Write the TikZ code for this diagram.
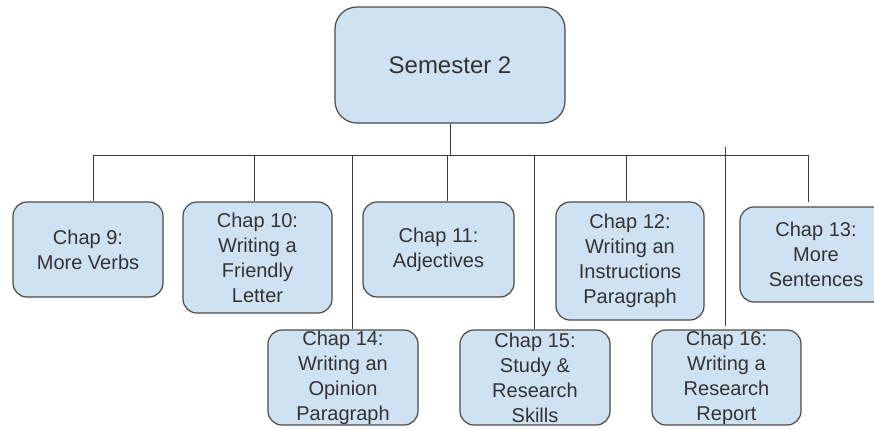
\documentclass[tikz,border=0pt]{standalone}
\usepackage{fontspec}
\setmainfont{Liberation Sans}
\definecolor{boxfill}{HTML}{CFE2F3}
\definecolor{boxline}{HTML}{4A4A4A}
\definecolor{txt}{HTML}{333333}
\definecolor{conn}{HTML}{3C3C3C}
\begin{document}
\begin{tikzpicture}[x=1pt,y=-1pt,
  chapbox/.style={draw=boxline, line width=1.2pt, fill=boxfill, rounded corners=14pt,
    inner sep=0pt, align=center, text=txt, font=\fontsize{20}{25}\selectfont},
  topbox/.style={draw=boxline, line width=1.2pt, fill=boxfill, rounded corners=22pt,
    inner sep=0pt, align=center, text=txt, font=\fontsize{24}{29}\selectfont},
  conn/.style={draw=conn, line width=1pt}]
\useasboundingbox (0,0) rectangle (874,429);
\fill[white] (0,0) rectangle (874,429);
% top
\node[topbox, minimum width=230pt, minimum height=116pt] (sem) at (450,65) {Semester 2};
% chapters
\node[chapbox, minimum width=150pt, minimum height=95pt] (c9) at (88,249.5) {Chap 9:\\More Verbs};
\node[chapbox, minimum width=149pt, minimum height=111pt] (c10) at (257.5,257.5) {Chap 10:\\Writing a\\Friendly\\Letter};
\node[chapbox, minimum width=151pt, minimum height=95pt] (c11) at (438.5,249.5) {Chap 11:\\Adjectives};
\node[chapbox, minimum width=148pt, minimum height=118pt] (c12) at (630,261) {Chap 12:\\Writing an\\Instructions\\Paragraph};
\node[chapbox, minimum width=152pt, minimum height=95pt] (c13) at (816,254.5) {Chap 13:\\More\\Sentences};
\node[chapbox, minimum width=150pt, minimum height=95pt] (c14) at (343,377.5) {Chap 14:\\Writing an\\Opinion\\Paragraph};
\node[chapbox, minimum width=150pt, minimum height=95pt] (c15) at (535,377.5) {Chap 15:\\Study \&\\Research\\Skills};
\node[chapbox, minimum width=149pt, minimum height=95pt] (c16) at (726.5,377.5) {Chap 16:\\Writing a\\Research\\Report};
% bus
\coordinate (bl) at (93,155);
\coordinate (br) at (808,155);
\coordinate (bs) at (450,155);
\coordinate (b9) at (93,155);
\coordinate (b10) at (254,155);
\coordinate (b14) at (352,155);
\coordinate (b11) at (447,155);
\coordinate (b15) at (534,155);
\coordinate (b12) at (626,155);
\coordinate (b16) at (725,147);
\coordinate (b13) at (808,155);
\coordinate (e13) at (808,202);
\coordinate (e16) at (725,326);
\draw[conn] (sem.south) -- (bs);
\draw[conn] (bl) -- (br);
\draw[conn] (b9) -- (b9 |- c9.north);
\draw[conn] (b10) -- (b10 |- c10.north);
\draw[conn] (b14) -- (b14 |- c14.north);
\draw[conn] (b11) -- (b11 |- c11.north);
\draw[conn] (b15) -- (b15 |- c15.north);
\draw[conn] (b12) -- (b12 |- c12.north);
\draw[conn] (b16) -- (e16);
\draw[conn] (b13) -- (e13);
\end{tikzpicture}
\end{document}
